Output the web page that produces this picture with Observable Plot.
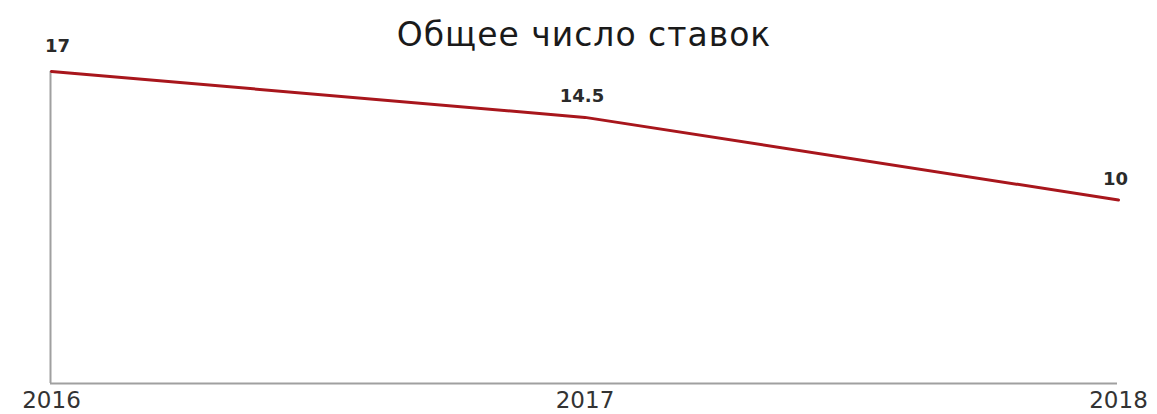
<!DOCTYPE html>
<html>
<head>
<meta charset="utf-8">
<script src="https://cdn.jsdelivr.net/npm/d3@7"></script>
<script src="https://cdn.jsdelivr.net/npm/@observablehq/plot@0.6"></script>
<style>
  html, body { margin: 0; padding: 0; background: #fff; }
  #wrap { position: relative; width: 1157px; height: 414px; }
  #title { position: absolute; left: 0; top: 18px; width: 1168px; font: 33px/33px "DejaVu Sans", sans-serif; letter-spacing: 1px; color: #1a1a1a; text-align: center; }
</style>
</head>
<body>
<div id="wrap">
<div id="title">Общее число ставок</div>
<div id="chart"></div>
</div>
<script>
const years = [2016, 2017, 2018];
const values = [17, 14.5, 10];
const valueLabels = ["17", "14.5", "10"];
const yearLabels = ["2016", "2017", "2018"];

const data = years.map((y, i) => ({year: y, value: values[i], label: valueLabels[i], yl: yearLabels[i]}));

const chart = Plot.plot({
  width: 1157,
  height: 414,
  marginTop: 71,
  marginBottom: 31,
  marginLeft: 51,
  marginRight: 39,
  x: {domain: [2016, 2018], axis: null},
  y: {domain: [0, 17], axis: null},
  marks: [
    Plot.ruleX([years[0]], {y1: 0, y2: values[0], stroke: "#a0a0a0", strokeWidth: 2, dx: -1}),
    Plot.ruleY([0], {x1: years[0], x2: years[years.length - 1], stroke: "#a0a0a0", strokeWidth: 2, dx: -1}),
    Plot.line(data, {x: "year", y: "value", stroke: "#a8161c", strokeWidth: 3}),
    Plot.text(data.slice(0, 1), {x: "year", y: "value", text: "label", dy: -25, dx: 6, fontSize: 18, fontWeight: "bold", fill: "#2a2a2a", fontFamily: "DejaVu Sans"}),
    Plot.text(data.slice(1), {x: "year", y: "value", text: "label", dy: -21, dx: -3, fontSize: 18, fontWeight: "bold", fill: "#2a2a2a", fontFamily: "DejaVu Sans"}),
    Plot.text(data, {x: "year", y: 0, text: "yl", dy: 17, dx: 0, fontSize: 23, fill: "#333", fontFamily: "DejaVu Sans"})
  ]
});
document.getElementById("chart").appendChild(chart);
</script>
</body>
</html>
